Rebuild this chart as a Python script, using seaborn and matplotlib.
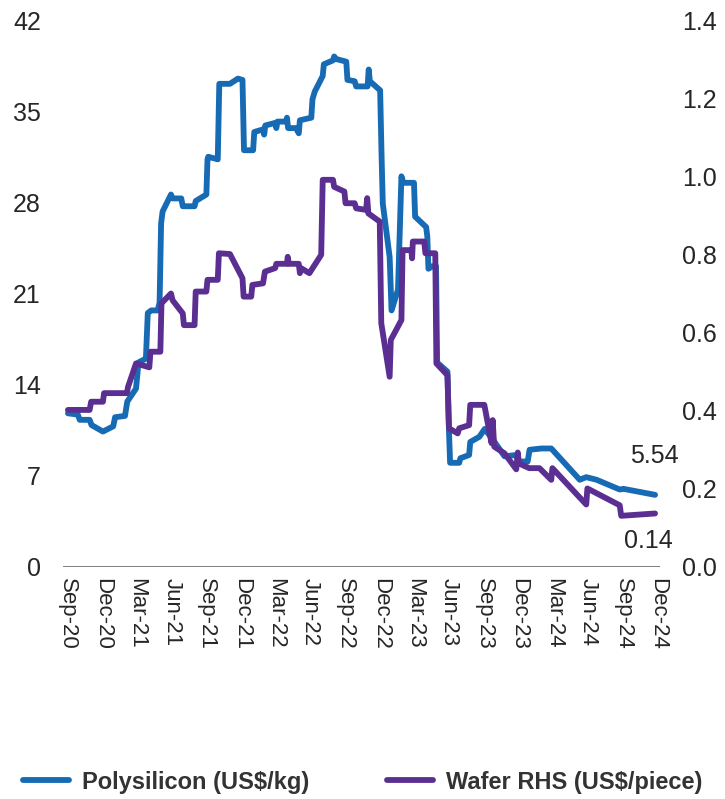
import pandas as pd
import seaborn as sns
import matplotlib.pyplot as plt
import matplotlib.dates as mdates
from matplotlib.ticker import FormatStrFormatter

# Polysilicon price, US$/kg (left axis)
poly_dates = [
    "2020-09-01", "2020-09-27", "2020-10-02", "2020-10-28", "2020-11-02", "2020-12-02",
    "2020-12-29", "2021-01-03", "2021-01-29", "2021-02-04", "2021-02-27", "2021-03-03",
    "2021-03-05", "2021-03-25", "2021-03-30", "2021-04-08", "2021-04-25", "2021-04-30",
    "2021-05-04", "2021-05-08", "2021-05-30", "2021-06-03", "2021-06-26", "2021-06-30",
    "2021-07-31", "2021-08-03", "2021-08-31", "2021-09-03", "2021-09-05", "2021-09-30",
    "2021-10-04", "2021-11-01", "2021-11-22", "2021-12-04", "2021-12-08", "2022-01-01",
    "2022-01-04", "2022-01-27", "2022-01-30", "2022-02-02", "2022-02-28", "2022-03-03",
    "2022-03-06", "2022-03-28", "2022-03-31", "2022-04-03", "2022-04-24", "2022-05-01",
    "2022-05-04", "2022-06-03", "2022-06-06", "2022-06-12", "2022-07-03", "2022-07-06",
    "2022-07-30", "2022-08-02", "2022-08-08", "2022-09-03", "2022-09-06", "2022-09-25",
    "2022-09-29", "2022-10-29", "2022-11-01", "2022-11-04", "2022-12-01", "2022-12-05",
    "2022-12-08", "2022-12-26", "2022-12-31", "2023-01-17", "2023-01-26", "2023-01-31",
    "2023-02-28", "2023-03-03", "2023-04-01", "2023-04-04", "2023-04-07", "2023-04-18",
    "2023-04-27", "2023-04-30", "2023-05-27", "2023-05-31", "2023-06-03", "2023-06-27",
    "2023-06-30", "2023-07-23", "2023-07-26", "2023-08-19", "2023-09-02", "2023-09-28",
    "2023-10-24", "2023-11-24", "2023-11-30", "2023-12-24", "2023-12-29", "2024-01-29",
    "2024-02-24", "2024-05-09", "2024-05-26", "2024-06-22", "2024-08-22", "2024-09-01",
    "2024-11-23",
]
poly_price = [
    11.8, 11.7, 11.3, 11.3, 10.9, 10.4,
    10.8, 11.5, 11.6, 12.7, 13.7, 14.9,
    15.7, 16.0, 19.5, 19.7, 19.7, 20.3,
    26.4, 27.3, 28.6, 28.3, 28.3, 27.7,
    27.7, 28.1, 28.6, 31.3, 31.5, 31.3,
    37.1, 37.1, 37.5, 37.4, 32.0, 32.0,
    33.4, 33.6, 33.2, 33.9, 34.1, 33.7,
    34.2, 34.2, 34.5, 33.7, 33.7, 33.3,
    34.3, 34.5, 35.9, 36.5, 37.7, 38.6,
    38.9, 39.2, 39.0, 38.8, 37.4, 37.3,
    36.9, 36.9, 38.2, 37.3, 36.6, 31.3,
    27.9, 23.8, 19.7, 21.3, 30.0, 29.5,
    29.5, 26.9, 26.1, 25.4, 22.9, 23.1,
    23.1, 15.7, 15.0, 10.5, 8.0, 8.0,
    8.35, 8.6, 9.6, 10.0, 10.6, 9.6,
    8.5, 8.6, 8.1, 8.1, 9.0, 9.1,
    9.1, 6.7, 6.9, 6.7, 5.95, 6.0,
    5.54,
]

# Wafer price, US$/piece (right axis)
wafer_dates = [
    "2020-09-01", "2020-10-28", "2020-11-01", "2020-12-02", "2020-12-05", "2021-02-03",
    "2021-02-06", "2021-02-27", "2021-04-03", "2021-04-06", "2021-05-02", "2021-05-05",
    "2021-05-30", "2021-06-03", "2021-06-30", "2021-07-03", "2021-07-31", "2021-08-03",
    "2021-08-31", "2021-09-03", "2021-09-30", "2021-10-03", "2021-11-01", "2021-12-04",
    "2021-12-07", "2021-12-27", "2021-12-30", "2022-01-27", "2022-02-01", "2022-02-28",
    "2022-03-03", "2022-03-31", "2022-04-02", "2022-04-05", "2022-05-01", "2022-05-04",
    "2022-05-07", "2022-05-29", "2022-06-29", "2022-07-03", "2022-07-30", "2022-08-02",
    "2022-08-29", "2022-09-01", "2022-09-25", "2022-09-29", "2022-10-25", "2022-10-28",
    "2022-10-31", "2022-11-30", "2022-12-04", "2022-12-26", "2022-12-29", "2023-01-26",
    "2023-01-29", "2023-02-21", "2023-02-23", "2023-02-25", "2023-03-27", "2023-03-30",
    "2023-04-25", "2023-04-28", "2023-05-27", "2023-05-31", "2023-06-23", "2023-06-27",
    "2023-07-23", "2023-07-26", "2023-09-01", "2023-09-20", "2023-09-23", "2023-09-27",
    "2023-10-24", "2023-11-24", "2023-11-28", "2023-12-01", "2023-12-28", "2024-01-24",
    "2024-02-24", "2024-02-27", "2024-05-26", "2024-05-29", "2024-08-22", "2024-08-26",
    "2024-11-23",
]
wafer_price = [
    0.402, 0.402, 0.423, 0.423, 0.445, 0.445,
    0.461, 0.521, 0.511, 0.551, 0.551, 0.675,
    0.700, 0.683, 0.649, 0.619, 0.619, 0.705,
    0.705, 0.735, 0.735, 0.803, 0.801, 0.739,
    0.692, 0.692, 0.722, 0.726, 0.756, 0.765,
    0.776, 0.776, 0.794, 0.776, 0.776, 0.752,
    0.765, 0.752, 0.799, 0.991, 0.991, 0.973,
    0.961, 0.931, 0.931, 0.918, 0.914, 0.944,
    0.905, 0.884, 0.624, 0.487, 0.581, 0.632,
    0.811, 0.811, 0.790, 0.833, 0.833, 0.803,
    0.803, 0.521, 0.491, 0.355, 0.342, 0.355,
    0.363, 0.415, 0.415, 0.317, 0.376, 0.308,
    0.291, 0.250, 0.293, 0.265, 0.253, 0.253,
    0.223, 0.253, 0.160, 0.201, 0.158, 0.131,
    0.137,
]

tick_dates = pd.date_range("2020-09-01", "2024-12-01", freq="3MS")

poly = pd.DataFrame({"date": pd.to_datetime(poly_dates), "price": poly_price})
wafer = pd.DataFrame({"date": pd.to_datetime(wafer_dates), "price": wafer_price})

sns.set_style("white")
plt.rcParams["font.family"] = ["Liberation Sans", "DejaVu Sans"]

blue = "#176BB5"
purple = "#5B2E91"

fig = plt.figure(figsize=(7.25, 7.99), dpi=100)
ax = fig.add_axes([63 / 725, 1 - 567 / 799, (660 - 63) / 725, (567 - 20) / 799])
ax2 = ax.twinx()

sns.lineplot(data=poly, x="date", y="price", ax=ax, color=blue, linewidth=4.2,
             estimator=None, sort=False, label="Polysilicon (US$/kg)", legend=False)
sns.lineplot(data=wafer, x="date", y="price", ax=ax2, color=purple, linewidth=4.2,
             estimator=None, sort=False, label="Wafer RHS (US$/piece)", legend=False)

ax.set_ylim(0, 42)
ax.set_yticks(range(0, 43, 7))
ax2.set_ylim(0, 1.4)
ax2.set_yticks([0, 0.2, 0.4, 0.6, 0.8, 1.0, 1.2, 1.4])
ax2.yaxis.set_major_formatter(FormatStrFormatter("%.1f"))

ax.set_xlim(pd.Timestamp("2020-08-19"), pd.Timestamp("2024-12-06"))
ax.set_xticks(tick_dates)
ax.xaxis.set_major_formatter(mdates.DateFormatter("%b-%y"))
ax.tick_params(axis="x", rotation=270, labelsize=16, length=0, pad=8)
ax.tick_params(axis="y", labelsize=18, length=0, pad=16)
ax2.tick_params(axis="y", labelsize=18, length=0, pad=16)
ax.set_xlabel("")
ax.set_ylabel("")
ax2.set_ylabel("")

for a in (ax, ax2):
    for s in a.spines.values():
        s.set_visible(False)
ax.axhline(0, color="#595959", linewidth=1.8, zorder=1)

ax.text(pd.Timestamp("2024-11-20"), 8.5, "5.54", fontsize=18, ha="center", va="center")
ax.text(pd.Timestamp("2024-11-05"), 2.0, "0.14", fontsize=18, ha="center", va="center")

handles = ax.get_lines()[:1] + ax2.get_lines()[:1]
fig.legend(handles, [h.get_label() for h in handles], loc="lower center",
           bbox_to_anchor=(0.5, -0.02), ncol=2, frameon=False, columnspacing=3.3,
           handlelength=1.95, handletextpad=0.55,
           prop={"family": ["Liberation Sans Narrow", "Liberation Sans"], "weight": "bold", "size": 17},
           labelcolor="#333333")

fig.savefig("out.png", dpi=100)
